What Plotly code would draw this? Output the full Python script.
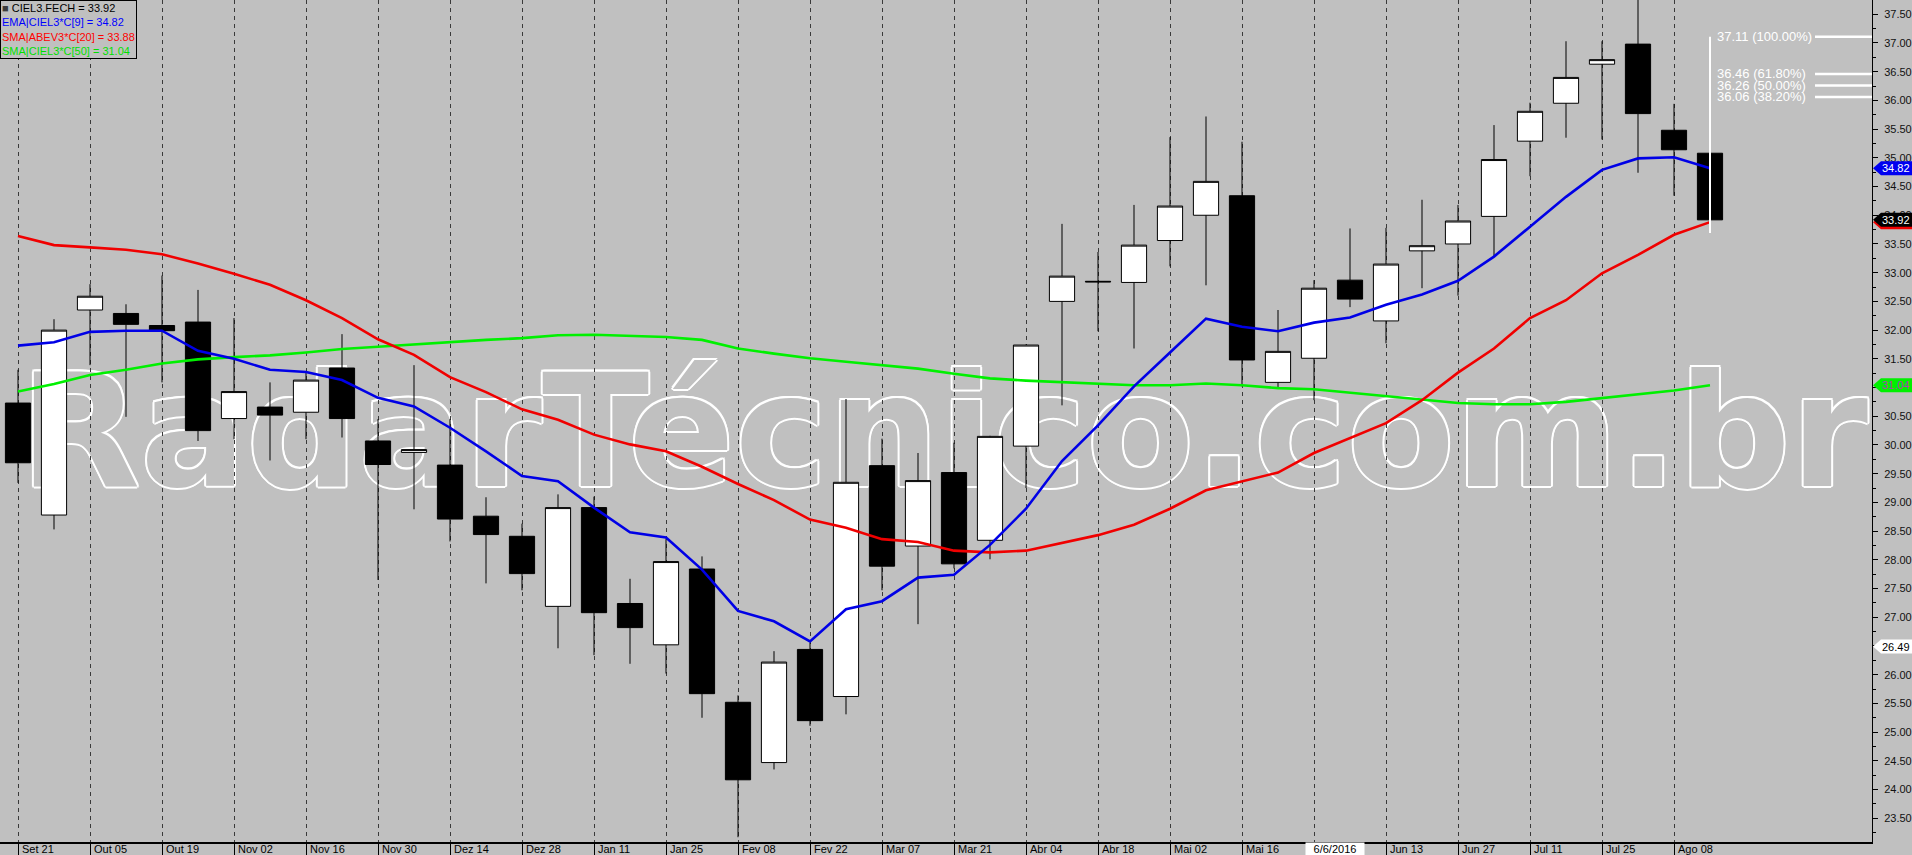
import pandas as pd
import plotly.graph_objects as go

# ---------------- data ----------------
dates = pd.date_range("2015-09-21", periods=48, freq="7D")

open_ = [30.73, 28.78, 32.35, 32.29, 32.08, 32.14, 30.46, 30.66, 30.57, 31.34,
         30.07, 29.87, 29.65, 28.76, 28.41, 27.19, 28.91, 27.24, 26.52, 27.84,
         25.52, 24.47, 26.44, 25.62, 29.64, 28.24, 29.52, 28.34, 29.98, 32.50,
         32.85, 32.83, 33.56, 34.00, 34.34, 31.09, 31.51, 32.87, 32.16, 33.38,
         33.50, 33.98, 35.29, 35.95, 36.63, 36.98, 35.48, 35.08]
high_ = [31.31, 32.19, 32.80, 32.45, 32.95, 32.70, 32.21, 31.09, 31.28, 31.93,
         30.45, 31.39, 30.45, 29.09, 28.63, 29.14, 29.10, 27.67, 28.36, 28.06,
         25.64, 26.41, 26.56, 30.80, 30.11, 29.86, 30.04, 30.16, 31.75, 33.85,
         33.36, 34.18, 35.36, 35.72, 35.28, 32.35, 32.87, 33.77, 33.78, 34.27,
         34.18, 35.57, 35.96, 37.03, 37.03, 37.85, 35.94, 35.12]
low_ = [29.34, 28.53, 31.39, 30.49, 31.09, 30.07, 30.10, 29.73, 30.10, 30.13,
        27.65, 28.88, 28.32, 27.59, 27.47, 26.46, 26.34, 26.19, 26.02, 25.25,
        23.17, 24.35, 25.11, 25.31, 27.47, 26.88, 27.85, 28.01, 29.25, 30.69,
        31.98, 31.68, 33.11, 32.78, 31.02, 31.00, 30.78, 32.40, 31.77, 32.73,
        32.60, 33.28, 34.68, 35.35, 35.32, 34.74, 34.34, 33.75]
close_ = [29.69, 32.00, 32.59, 32.10, 31.99, 30.25, 30.93, 30.52, 31.13, 30.46,
          29.66, 29.92, 28.71, 28.44, 27.76, 28.91, 27.08, 26.82, 27.97, 25.67,
          24.17, 26.22, 25.20, 29.35, 27.89, 29.38, 27.93, 30.15, 31.74, 32.94,
          32.84, 33.48, 34.16, 34.59, 31.48, 31.63, 32.73, 32.54, 33.15, 33.47,
          33.90, 34.97, 35.81, 36.40, 36.71, 35.77, 35.14, 33.92]

ema9 = [31.73, 31.79, 31.97, 31.99, 31.99, 31.64, 31.50, 31.31, 31.27, 31.13,
        30.82, 30.67, 30.30, 29.89, 29.46, 29.37, 28.91, 28.48, 28.39, 27.83,
        27.11, 26.93, 26.58, 27.14, 27.28, 27.69, 27.74, 28.26, 28.89, 29.72,
        30.34, 31.02, 31.61, 32.20, 32.06, 31.98, 32.13, 32.22, 32.44, 32.62,
        32.86, 33.28, 33.80, 34.32, 34.79, 34.99, 35.01, 34.82]
sma20 = [33.64, 33.48, 33.44, 33.40, 33.32, 33.16, 32.98, 32.79, 32.52, 32.21,
         31.84, 31.57, 31.18, 30.92, 30.62, 30.44, 30.18, 30.01, 29.89, 29.62,
         29.32, 29.04, 28.70, 28.56, 28.36, 28.31, 28.16, 28.13, 28.16, 28.29,
         28.43, 28.61, 28.89, 29.21, 29.37, 29.52, 29.86, 30.12, 30.38, 30.78,
         31.26, 31.68, 32.21, 32.52, 32.99, 33.31, 33.66, 33.88]
sma50 = [30.93, 31.06, 31.22, 31.31, 31.42, 31.49, 31.53, 31.56, 31.61, 31.67,
         31.71, 31.75, 31.80, 31.83, 31.86, 31.91, 31.92, 31.90, 31.88, 31.83,
         31.68, 31.59, 31.51, 31.45, 31.39, 31.33, 31.24, 31.16, 31.12, 31.09,
         31.07, 31.04, 31.04, 31.07, 31.04, 30.99, 30.97, 30.91, 30.84, 30.78,
         30.73, 30.71, 30.71, 30.75, 30.82, 30.89, 30.95, 31.04]

tick_labels = ["Set 21", "Out 05", "Out 19", "Nov 02", "Nov 16", "Nov 30",
               "Dez 14", "Dez 28", "Jan 11", "Jan 25", "Fev 08", "Fev 22",
               "Mar 07", "Mar 21", "Abr 04", "Abr 18", "Mai 02", "Mai 16",
               "Mai 30", "Jun 13", "Jun 27", "Jul 11", "Jul 25", "Ago 08"]
tick_dates = list(dates[::2])

fib_levels = [37.11, 36.46, 36.26, 36.06]
fib_pcts = ["100.00%", "61.80%", "50.00%", "38.20%"]
fib_low = 33.69

cursor_price = 26.49
cursor_index = 37          # week under the cursor (6/6/2016)
cursor_date_label = "6/6/2016"
watermark = "RadarTécnico.com.br"

# ---------------- layout constants ----------------
BG = "#C0C0C0"
Y_RANGE = [23.087, 37.748]
week = pd.Timedelta(days=7)
X_RANGE = [dates[0] - 0.5 * week, dates[0] + 51.5 * week]
FONT = "Arial, Liberation Sans, sans-serif"

fig = go.Figure()

# candles
fig.add_trace(go.Candlestick(
    x=dates, open=open_, high=high_, low=low_, close=close_,
    increasing=dict(line=dict(color="black", width=1), fillcolor="white"),
    decreasing=dict(line=dict(color="black", width=1), fillcolor="black"),
    whiskerwidth=0, hoverinfo="skip", showlegend=False))

# moving averages
fig.add_trace(go.Scatter(x=dates, y=sma50, mode="lines",
                         line=dict(color="#00F000", width=2.6), hoverinfo="skip", showlegend=False))
fig.add_trace(go.Scatter(x=dates, y=sma20, mode="lines",
                         line=dict(color="#F00000", width=2.6), hoverinfo="skip", showlegend=False))
fig.add_trace(go.Scatter(x=dates, y=ema9, mode="lines",
                         line=dict(color="#0000E6", width=2.6), hoverinfo="skip", showlegend=False))

shapes = []
annotations = []

# watermark: outlined text (background-coloured fill + white shadow outline), below grid and traces
outline = ",".join(f"{dx}px {dy}px 0 #ffffff" for dx, dy in
                   [(2, 0), (-2, 0), (0, 2), (0, -2), (1.5, 1.5), (-1.5, -1.5), (1.5, -1.5), (-1.5, 1.5)])
wm_center = dates[0] + pd.Timedelta(days=180)
shapes.append(dict(type="rect", xref="x", yref="y", layer="below",
                   x0=wm_center - 5 * week, x1=wm_center + 5 * week, y0=29.43, y1=31.43,
                   fillcolor="rgba(0,0,0,0)", line=dict(width=0),
                   label=dict(text=watermark, textposition="middle center", padding=0,
                              font=dict(family="DejaVu Sans", size=157, color=BG,
                                        weight="bold", shadow=outline))))

# fibonacci tool
shapes.append(dict(type="line", xref="x", yref="y", x0=dates[-1], x1=dates[-1],
                   y0=fib_low, y1=fib_levels[0], line=dict(color="white", width=2), layer="above"))
for lvl, pct in zip(fib_levels, fib_pcts):
    shapes.append(dict(type="line", xref="paper", yref="y", xsizemode="pixel", xanchor=1,
                       x0=-57, x1=0, y0=lvl, y1=lvl, line=dict(color="white", width=2.5), layer="above"))
    annotations.append(dict(xref="paper", yref="y", x=1, xshift=-156, y=lvl, xanchor="left",
                            yanchor="middle", text=f"{lvl:.2f} ({pct})", showarrow=False,
                            font=dict(family=FONT, size=13, color="white"), borderpad=0))

# price tags on the right axis
tags = [
    (ema9[-1], "#0000F0", "white"),
    (sma20[-1], "#F00000", None),
    (close_[-1], "black", "white"),
    (sma50[-1], "#00F000", "#B040B0"),
    (cursor_price, "white", "black"),
]
for val, fill, tcol in tags:
    shapes.append(dict(type="path", xref="paper", yref="y", xsizemode="pixel", xanchor=1,
                       ysizemode="pixel", yanchor=val,
                       path="M1,0 L9,7 L40,7 L40,-7 L9,-7 Z",
                       fillcolor=fill, line=dict(width=0), layer="above"))
    if tcol:
        annotations.append(dict(xref="paper", yref="y", x=1, xshift=9, y=val, xanchor="left",
                                yanchor="middle", text=f"{val:.2f}", showarrow=False,
                                font=dict(family=FONT, size=11, color=tcol), borderpad=0))

# bottom date labels (the one under the cursor box is hidden)
for d, lab in zip(tick_dates, tick_labels):
    if d == dates[cursor_index - 1]:
        continue
    annotations.append(dict(xref="x", yref="paper", x=d, y=0, xshift=3, yshift=-7,
                            xanchor="left", yanchor="middle", text=lab, showarrow=False,
                            font=dict(family=FONT, size=11, color="black"), borderpad=0))
annotations.append(dict(xref="x", yref="paper", x=dates[cursor_index], y=0, xshift=-15, yshift=-7,
                        xanchor="center", yanchor="middle", text=cursor_date_label,
                        showarrow=False, bgcolor="white", width=58, height=12,
                        font=dict(family=FONT, size=11, color="black"), borderpad=0))

# legend box
legend_text = (f"<span style='color:#3c3c3c'>■</span> <span style='color:#000000'>CIEL3.FECH = {close_[-1]:.2f}</span><br>"
               f"<span style='color:#0000FF'>EMA|CIEL3*C[9] = {ema9[-1]:.2f}</span><br>"
               f"<span style='color:#FF0000'>SMA|ABEV3*C[20] = {sma20[-1]:.2f}</span><br>"
               f"<span style='color:#00E000'>SMA|CIEL3*C[50] = {sma50[-1]:.2f}</span>")
annotations.append(dict(xref="paper", yref="paper", x=0, y=1, xanchor="left", yanchor="top",
                        text=legend_text, align="left", showarrow=False, bgcolor=BG,
                        bordercolor="black", borderwidth=1, borderpad=1,
                        font=dict(family=FONT, size=11, color="black")))

fig.update_layout(
    width=1912, height=855,
    margin=dict(l=0, r=40, t=0, b=13, pad=0),
    paper_bgcolor=BG, plot_bgcolor=BG,
    showlegend=False, boxgap=0.3, boxgroupgap=0,
    shapes=shapes, annotations=annotations,
    xaxis=dict(type="date", range=X_RANGE, rangeslider=dict(visible=False),
               showgrid=True, gridcolor="#3a3a3a", gridwidth=1, griddash="4px,4px",
               zeroline=False, tickvals=tick_dates, showticklabels=False,
               ticks="outside", ticklen=13, tickcolor="black", tickwidth=1,
               showline=True, linecolor="black", linewidth=1.5),
    yaxis=dict(side="right", range=Y_RANGE, showgrid=False, zeroline=False,
               tick0=0, dtick=0.5, tickformat=".2f", ticks="outside", ticklen=5,
               tickcolor="black", tickwidth=1, ticklabelstandoff=4,
               minor=dict(ticks="outside", ticklen=3, dtick=0.25, tick0=0, tickcolor="black"),
               showline=True, linecolor="black", linewidth=1,
               tickfont=dict(family=FONT, size=11, color="#111111")),
)

fig.write_html("out.html", config={"displayModeBar": False},
               post_script="document.body.style.margin='0';document.body.style.overflow='hidden';")
